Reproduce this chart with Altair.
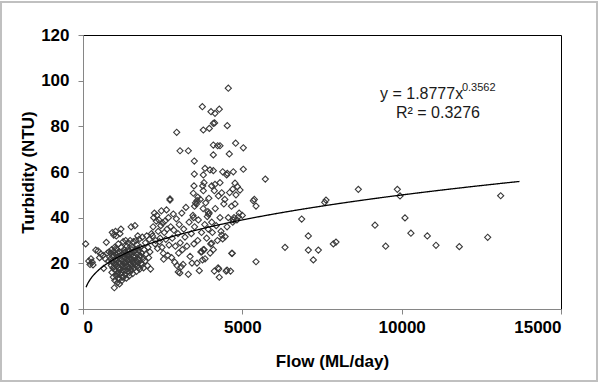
import altair as alt
import pandas as pd

# ---- data (flow ML/day, turbidity NTU) ----
low_flow_points = [(84, 28.5), (180, 21), (220, 19.5), (250, 22), (290, 20.5), (314, 19.3),
                   (400, 25.8), (470, 25.5), (520, 22.5), (565, 24), (628, 23.5), (649, 17.8),
                   (700, 22), (732, 29.2), (760, 24.5), (800, 21), (820, 25)]

cluster_points = [(870, 22), (880, 24.5), (890, 19), (900, 26), (905, 21), (910, 16), (920, 33.5),
                  (930, 23), (940, 18), (950, 14), (960, 25), (965, 32.4), (975, 20), (983, 9.3),
                  (990, 27), (1000, 12.5), (1005, 22), (1010, 17), (1020, 34), (1030, 24), (1040, 19.5),
                  (1045, 32), (1050, 14.5), (1060, 26), (1070, 21), (1080, 11.5), (1090, 16), (1100, 23),
                  (1110, 28.5), (1120, 18), (1130, 13), (1140, 25), (1150, 20), (1160, 33), (1170, 15.5),
                  (1180, 22), (1190, 35), (1200, 27), (1210, 19), (1220, 12.5), (1230, 24), (1240, 17),
                  (1250, 21), (1260, 29.5), (1270, 14), (1280, 23), (1290, 26), (1300, 18.5), (1310, 20),
                  (1320, 15), (1330, 25), (1340, 30), (1350, 22), (1360, 13.5), (1370, 19), (1380, 27.5),
                  (1390, 24), (1400, 16.5), (1410, 21), (1420, 29), (1430, 23), (1440, 18), (1450, 14.5),
                  (1460, 25.5), (1470, 20), (1480, 30), (1490, 22), (1500, 17), (1510, 36), (1520, 24),
                  (1530, 19), (1540, 27), (1550, 21), (1560, 15.5), (1570, 23), (1580, 29.5), (1590, 20),
                  (1600, 25), (1610, 18), (1620, 22.5), (1630, 36.5), (1640, 26), (1650, 19.5), (1660, 30),
                  (1670, 21), (1680, 16.5), (1690, 24), (1700, 28), (1710, 20.5), (1720, 32), (1730, 22),
                  (1740, 18), (1750, 25.5), (1760, 30.5), (1770, 21.5), (1780, 17.5), (1790, 23.5),
                  (1800, 27), (1820, 20), (1840, 24.5), (1860, 31.5), (1880, 22), (1900, 18), (1920, 26),
                  (1940, 21), (1960, 29), (1980, 24), (2000, 32), (2020, 19), (2040, 27), (2060, 22.5),
                  (2080, 30.5), (2100, 25), (2120, 17.5)]

cluster_extra_points = [(1015, 21.5), (1065, 18.5), (1095, 24.5), (1125, 20.5), (1155, 17.5), (1185, 23.5),
                        (1215, 21.5), (1245, 19.5), (1275, 24.5), (1305, 22.5), (1335, 20.5), (1365, 23.5),
                        (1395, 18.5), (1425, 21.5), (1455, 24), (1485, 19.5), (1515, 22), (1545, 18.5),
                        (1575, 21), (1605, 23.5), (935, 20.5), (955, 23.5), (985, 18.5), (1035, 26.5),
                        (1075, 15.5), (1105, 13.5), (1145, 11), (1195, 16), (1235, 14), (1285, 16.5),
                        (1345, 17), (1405, 26), (1465, 16), (1535, 26), (1695, 18.5), (1725, 26.5),
                        (1815, 23), (1870, 19.5)]

mid_points = [(2150, 33), (2180, 32), (2200, 36), (2220, 40), (2240, 42), (2260, 28.5), (2280, 30),
              (2300, 38.5), (2320, 41), (2340, 26.5), (2360, 34), (2380, 39), (2400, 29.5), (2420, 31),
              (2440, 36.5), (2460, 43), (2480, 27), (2500, 37.7), (2520, 24.4), (2530, 21.8), (2550, 33.5),
              (2570, 38.5), (2600, 30.5), (2620, 43.4), (2640, 35), (2660, 23.5), (2680, 40), (2700, 28),
              (2730, 47.7), (2750, 36), (2780, 22.5), (2800, 31), (2834, 41.6), (2850, 34.5), (2880, 20.5),
              (2900, 27.5), (2930, 39.5), (2950, 19), (2980, 33), (3000, 24.5), (3020, 37), (3050, 29),
              (3080, 18.5), (3100, 42), (3120, 26), (3140, 19.5), (3160, 35), (3200, 31.5), (3230, 44.5),
              (3260, 27.5), (3305, 15.2), (3330, 38), (3360, 23), (3400, 33), (3420, 20.1), (3450, 41),
              (3480, 28.5), (3500, 36), (3530, 46.5), (3577, 20.1), (3600, 30), (3620, 39), (3650, 16.8),
              (3680, 48), (3700, 25), (3720, 33.5), (3750, 21.5), (3770, 44), (3800, 26), (3820, 37),
              (3830, 22), (3850, 46.5), (3880, 31), (3900, 40.5), (3930, 35), (3960, 42), (3990, 24.5),
              (4010, 28.5), (4040, 38), (4060, 33.5), (4090, 26), (4121, 16.6), (4150, 44), (4180, 36.5),
              (4220, 30), (4260, 17.5), (4277, 13.9), (4300, 40), (4330, 34), (4383, 30.7), (4420, 46),
              (4460, 31.7), (4490, 16.6), (4520, 36), (4560, 40), (4630, 16.6), (4660, 45), (4685, 24.4),
              (4700, 38), (4740, 40), (4770, 46), (4830, 39), (4900, 42), (4927, 52.1), (5000, 41),
              (3560, 46), (3580, 47.5), (3920, 42.6), (3940, 41.5), (3500, 45), (3470, 40),
              (3724, 25), (3776, 26), (4038, 28.8), (4352, 32.4), (4666, 24.4), (4874, 40.4),
              (4717, 39), (2990, 16.2), (3040, 15.8), (4240, 18), (4520, 17)]

upper_points = [(2940, 77.4), (3044, 69.3), (3305, 69.3), (3493, 64.8), (3493, 59.1), (3483, 53.9),
                (3462, 50.7), (3745, 88.6), (3776, 78.4), (3964, 79.1), (3776, 58.7), (3797, 55.3),
                (3756, 53.9), (3776, 51.8), (3828, 61.6), (3985, 60.9), (4090, 60.6), (4017, 86.4),
                (4142, 85.7), (4277, 87.5), (4090, 81.3), (4130, 81.5), (4528, 80.3), (4560, 96.7),
                (4090, 71.8), (4226, 71.5), (4299, 71.5), (4790, 72.6), (5031, 70.6), (4090, 67.5),
                (4591, 67.9), (4383, 60.1), (4528, 59.4), (4717, 60.1), (4509, 58.7), (5031, 61.2),
                (4038, 53.9), (4299, 55.3), (4142, 54.6), (4770, 55.1), (4843, 53.6), (4121, 51.8),
                (4352, 50.9), (4600, 51), (4700, 52.5), (2730, 48.2), (5376, 48.0), (3600, 49),
                (3950, 48.5), (4250, 49.5), (4450, 48), (4800, 50)]

high_flow_points = [(5345, 47.4), (5429, 45.1), (5429, 20.7), (5721, 56.9), (6339, 27.0), (6862, 39.4),
                    (7071, 32.0), (7071, 25.8), (7385, 25.8), (7228, 21.5), (7625, 47.7), (7584, 46.7),
                    (7856, 28.5), (7939, 29.3), (8640, 52.4), (9163, 36.7), (9498, 27.5), (9864, 52.4),
                    (9948, 49.5), (10104, 39.9), (10290, 33.2), (10805, 32.0), (11077, 27.9),
                    (11809, 27.3), (12699, 31.4), (13107, 49.6)]

# power trendline as printed on the chart: y = 1.8777 x^0.3562
trend_coef = 1.8777
trend_exp = 0.3562
trend_range = [97, 13710]

x_ticks = [0, 5000, 10000, 15000]
y_ticks = [0, 20, 40, 60, 80, 100, 120]

equation_label = ["y = 1.8777x"]
exponent_label = ["0.3562"]
r2_label = ["R\u00b2 = 0.3276"]
label_pos = {"eq": (9320, 94.0), "exp": (11890, 96.6), "r2": (11140, 85.8)}

all_points = (low_flow_points + cluster_points + cluster_extra_points + mid_points
              + upper_points + high_flow_points)
df = pd.DataFrame(all_points, columns=["flow", "turb"])

x_scale = alt.Scale(domain=[0, 15000], nice=False, zero=False)
y_scale = alt.Scale(domain=[0, 120], nice=False)

scatter = alt.Chart(df).mark_point(
    shape="diamond", filled=False, size=38, color="#3a3a3a", strokeWidth=1.1, opacity=1
).encode(
    x=alt.X("flow:Q", scale=x_scale,
            axis=alt.Axis(values=x_ticks, format="d", title="Flow (ML/day)",
                          labelPadding=5, titleX=249, titleY=52,
                          titleAlign="center", titleBaseline="middle")),
    y=alt.Y("turb:Q", scale=y_scale,
            axis=alt.Axis(values=y_ticks, format="d", title="Turbidity (NTU)",
                          labelPadding=9, titleX=-55, titleY=137, titleAngle=270,
                          titleAlign="center", titleBaseline="middle")),
)

trend = alt.Chart(alt.sequence(trend_range[0], trend_range[1], 20, as_="flow")).transform_calculate(
    turb=f"{trend_coef} * pow(datum.flow, {trend_exp})"
).mark_line(color="black", strokeWidth=1.3).encode(
    x=alt.X("flow:Q", scale=x_scale),
    y=alt.Y("turb:Q", scale=y_scale),
)

eq_df = pd.DataFrame({"flow": [label_pos["eq"][0]], "turb": [label_pos["eq"][1]], "t": equation_label})
exp_df = pd.DataFrame({"flow": [label_pos["exp"][0]], "turb": [label_pos["exp"][1]], "t": exponent_label})
r2_df = pd.DataFrame({"flow": [label_pos["r2"][0]], "turb": [label_pos["r2"][1]], "t": r2_label})

eq_text = alt.Chart(eq_df).mark_text(
    align="left", baseline="middle", font="Liberation Sans", fontSize=16, color="#1a1a1a"
).encode(x=alt.X("flow:Q", scale=x_scale), y=alt.Y("turb:Q", scale=y_scale), text="t:N")

exp_text = alt.Chart(exp_df).mark_text(
    align="left", baseline="middle", font="Liberation Sans", fontSize=11, color="#1a1a1a"
).encode(x=alt.X("flow:Q", scale=x_scale), y=alt.Y("turb:Q", scale=y_scale), text="t:N")

r2_text = alt.Chart(r2_df).mark_text(
    align="center", baseline="middle", font="Liberation Sans", fontSize=16, color="#1a1a1a"
).encode(x=alt.X("flow:Q", scale=x_scale), y=alt.Y("turb:Q", scale=y_scale), text="t:N")

frame = alt.Chart(pd.DataFrame({"k": [0]})).mark_rect(
    fillOpacity=0, stroke="#c0c0c0", strokeWidth=2
).encode(x=alt.value(-82), x2=alt.value(514), y=alt.value(-33), y2=alt.value(346))

chart = alt.layer(frame, scatter, trend, eq_text, exp_text, r2_text).properties(
    width=478, height=274,
    autosize=alt.AutoSizeParams(type="none"),
    padding={"left": 83, "top": 35, "right": 38, "bottom": 74},
    background="white",
).configure_view(
    stroke="black", strokeWidth=1
).configure_axis(
    grid=False, domainColor="#868686", tickColor="#868686", tickSize=5,
    labelFont="Liberation Sans", labelFontWeight="bold", labelFontSize=17, labelColor="black",
    titleFont="Liberation Sans", titleFontWeight="bold", titleFontSize=17, titleColor="black",
)

chart.save("out.html", embed_options={"renderer": "svg", "actions": False})
